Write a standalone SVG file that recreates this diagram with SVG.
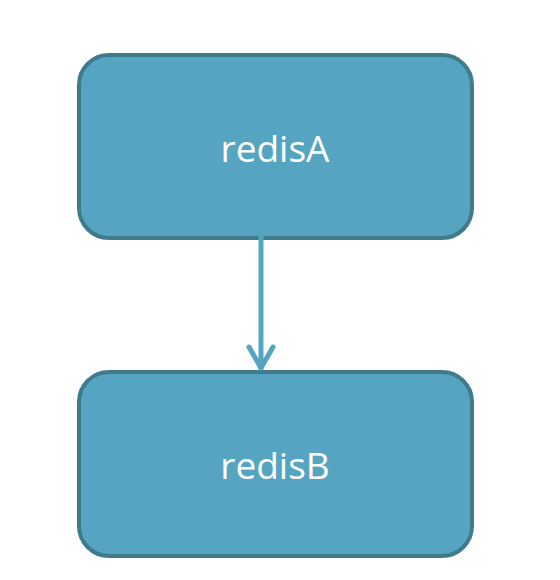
<svg xmlns="http://www.w3.org/2000/svg" width="560" height="580" viewBox="0 0 560 580">
<style>
.box{fill:#55A5C2;stroke:#3F7A8D;stroke-width:4}
.lbl{fill:#ffffff;font-family:"Open Sans","Noto Sans","Liberation Sans",sans-serif;font-size:37px;text-anchor:middle}
.conn{stroke:#55A5C2;stroke-width:5;fill:none;stroke-linecap:round;stroke-linejoin:round}
</style>
<rect width="560" height="580" fill="#ffffff"/>
<g id="redisA">
<rect class="box" x="79" y="55" width="393" height="183" rx="30"/>
<text class="lbl" x="275" y="162">redisA</text>
</g>
<g id="redisB">
<rect class="box" x="79" y="372" width="393" height="184" rx="30"/>
<text class="lbl" x="275" y="479">redisB</text>
</g>
<g id="connectors">
<line class="conn" x1="261" y1="200" x2="261" y2="368"/>
<polyline class="conn" points="249,347 261,368 273,347"/>
</g>
</svg>
